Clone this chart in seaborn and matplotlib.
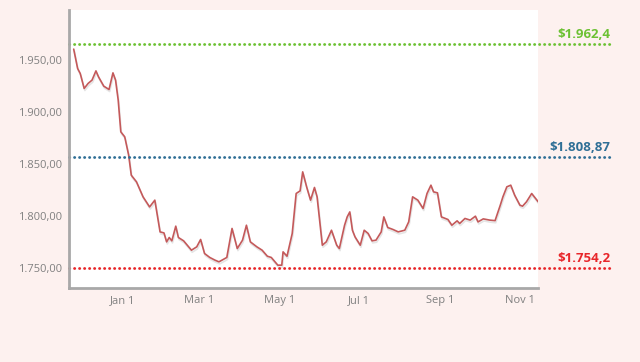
import pandas as pd
import matplotlib.pyplot as plt
import matplotlib.patheffects as pe
import matplotlib.dates as mdates
import matplotlib.ticker as mticker
import seaborn as sns

# days from 2019-01-01 and the price
day_offsets = [-37, -34, -32, -29, -26, -23, -20, -18, -14, -10, -7, -5, -3, -1, 2, 5, 7, 11, 16, 21,
               25, 29, 32, 34, 36, 38, 41, 43, 47, 53, 57, 60, 63, 67, 71, 74, 80, 84, 88, 92,
               95, 98, 103, 107, 111, 114, 119, 122, 123, 126, 130, 133, 136, 138, 141, 144, 147, 149, 153, 156,
               160, 164, 166, 170, 172, 174, 176, 178, 182, 185, 188, 191, 194, 198, 200, 203, 207, 211, 216, 219,
               222, 226, 230, 233, 236, 238, 241, 244, 249, 252, 256, 258, 262, 266, 270, 272, 276, 281, 285, 289,
               291, 294, 297, 300, 304, 306, 309, 313, 315, 318]
prices = [1960.6, 1942.0, 1937.2, 1922.8, 1927.6, 1930.8, 1939.7, 1933.9, 1925.0, 1921.8,
          1937.8, 1930.8, 1911.7, 1881.1, 1876.3, 1858.7, 1839.4, 1833.0, 1818.6, 1808.9,
          1815.4, 1784.9, 1783.9, 1775.3, 1779.5, 1776.3, 1790.4, 1779.5, 1776.3, 1767.3,
          1770.5, 1777.6, 1764.1, 1760.3, 1757.7, 1756.1, 1760.3, 1788.2, 1768.9, 1776.9,
          1791.3, 1775.3, 1770.5, 1767.3, 1761.5, 1760.3, 1752.9, 1752.9, 1765.7, 1761.5,
          1783.4, 1821.8, 1824.3, 1842.6, 1828.2, 1815.4, 1827.6, 1818.6, 1772.1, 1775.3,
          1786.5, 1772.1, 1768.9, 1791.3, 1799.3, 1804.1, 1786.5, 1780.1, 1772.1, 1786.5,
          1783.4, 1776.3, 1776.9, 1784.9, 1799.3, 1789.1, 1787.2, 1784.9, 1786.5, 1794.5,
          1818.6, 1815.4, 1807.4, 1821.8, 1829.8, 1823.4, 1822.4, 1799.3, 1796.8, 1791.3,
          1795.5, 1793.0, 1797.8, 1796.2, 1800.0, 1794.5, 1797.4, 1796.2, 1795.7, 1810.6,
          1818.6, 1828.2, 1829.8, 1820.2, 1810.6, 1809.6, 1813.8, 1821.8, 1818.6, 1813.8]

# reference lines (drawn where they sit on the chart) and their labels
ref_levels = [1965.4, 1856.7, 1750.0]
ref_labels = ["$1.962,4", "$1.808,87", "$1.754,2"]
ref_colors = ["#6cc133", "#2f6f96", "#e8262a"]

base = pd.Timestamp("2019-01-01")
df = pd.DataFrame({"date": [base + pd.Timedelta(days=d) for d in day_offsets], "price": prices})

sns.set_style("white")
plt.rcParams['font.family'] = ['Open Sans', 'DejaVu Sans']

fig = plt.figure(figsize=(6.4, 3.62), dpi=100, facecolor="#fdf1ef")
ax = fig.add_axes([0.108, 0.204, 0.733, 0.768])
ax.set_facecolor("white")

sns.lineplot(data=df, x="date", y="price", ax=ax, color="#c4595a", linewidth=1.2,
             path_effects=[pe.SimpleLineShadow(offset=(0.5, -1.5), alpha=0.2, shadow_color="gray"), pe.Normal()])

for lvl, lab, col in zip(ref_levels, ref_labels, ref_colors):
    ax.axhline(lvl, xmin=0, xmax=1.153, color=col, linestyle=(0, (0.1, 1.7)), linewidth=2,
               clip_on=False, dash_capstyle="round")
    ax.text(1.153, lvl + 3, lab, transform=ax.get_yaxis_transform(), ha="right", va="bottom",
            color=col, fontsize=9.5, fontweight="bold")

ax.set_xlim(base + pd.Timedelta(days=-40.5), base + pd.Timedelta(days=318))
ax.set_ylim(1730.8, 1998.1)
ax.set_yticks([1750, 1800, 1850, 1900, 1950])
ax.yaxis.set_major_formatter(mticker.FuncFormatter(lambda v, p: f"{v:,.2f}".replace(",", "X").replace(".", ",").replace("X", ".")))
ax.xaxis.set_major_locator(mdates.MonthLocator(bymonth=[1, 3, 5, 7, 9, 11]))
ax.xaxis.set_major_formatter(mdates.DateFormatter("%b 1"))
ax.set_xlabel("")
ax.set_ylabel("")
ax.tick_params(axis="both", length=0, labelsize=8, labelcolor="#808080", pad=5)

for s in ["top", "right"]:
    ax.spines[s].set_visible(False)
for s in ["left", "bottom"]:
    ax.spines[s].set_color("#a8a8a8")
    ax.spines[s].set_linewidth(2)

fig.savefig("out.png", dpi=100, facecolor=fig.get_facecolor())
